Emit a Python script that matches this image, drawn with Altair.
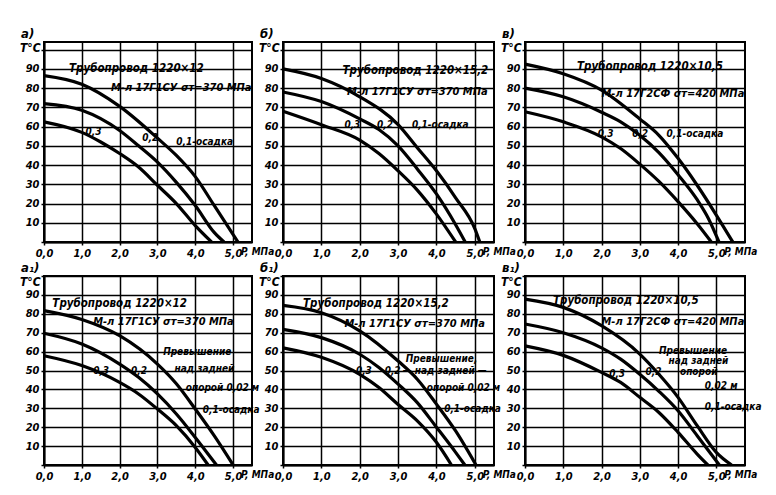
import altair as alt
import pandas as pd

FONT = "Liberation Sans Narrow, DejaVu Sans Condensed, Liberation Sans, sans-serif"

panel_labels = ["а)", "б)", "в)", "а₁)", "б₁)", "в₁)"]
panel_xmax = [5.5, 5.5, 5.75, 5.5, 5.5, 5.75]
panel_ymax = [104, 104, 104, 100, 100, 100]
panel_w = [208, 211, 220, 208, 211, 220]
panel_h = [200, 200, 200, 189, 189, 189]
curve_names = ["0,1", "0,2", "0,3"]

# ---- curves: pressure P (MPa) and temperature T (°C) ----
# panel а
a_p1 = [0, 1.0, 2.0, 3.0, 3.5, 4.0, 4.5, 5.13]
a_t1 = [86.5, 82, 70.5, 54, 45, 34, 19, 0]
a_p2 = [0, 1.0, 2.0, 2.5, 3.0, 3.5, 4.0, 4.5, 4.76]
a_t2 = [72, 68.5, 58, 50, 41.5, 31, 19, 5, 0]
a_p3 = [0, 1.0, 1.5, 2.0, 2.5, 3.0, 3.5, 4.0, 4.43]
a_t3 = [62.5, 57, 52, 46, 39, 29.5, 20, 8.5, 0]
# panel б
b_p1 = [0, 1.0, 2.0, 3.0, 3.5, 4.0, 4.5, 5.0, 5.13]
b_t1 = [90, 85, 75.5, 61, 49, 37, 23, 7, 0]
b_p2 = [0, 1.0, 2.0, 2.5, 3.0, 3.5, 4.0, 4.5, 4.75]
b_t2 = [78, 73, 64, 58.5, 50, 38, 25, 9, 0]
b_p3 = [0, 1.0, 2.0, 2.5, 3.0, 3.5, 4.0, 4.5]
b_t3 = [68, 61, 53, 46, 37, 27, 14.5, 0]
# panel в
v_p1 = [0, 1.0, 2.0, 3.0, 3.5, 4.0, 4.5, 5.0, 5.43]
v_t1 = [92.5, 87.5, 79, 64, 55.5, 43.5, 29.5, 14, 0]
v_p2 = [0, 1.0, 2.0, 2.5, 3.0, 3.5, 4.0, 4.5, 4.8, 5.07]
v_t2 = [80, 75.5, 67.5, 62.5, 55.5, 46.5, 35, 22, 12, 0]
v_p3 = [0, 1.0, 2.0, 2.5, 3.0, 3.5, 4.0, 4.5, 4.87]
v_t3 = [67.7, 62.5, 54.7, 48.6, 40.5, 31.5, 21, 9.5, 0]
# panel а1
a1_p1 = [0, 1.0, 2.0, 3.0, 3.5, 4.0, 4.5, 5.0]
a1_t1 = [81.7, 77, 68.4, 53.4, 43, 29.6, 15.5, 0]
a1_p2 = [0, 1.0, 2.0, 2.5, 3.0, 3.5, 4.0, 4.56]
a1_t2 = [69.7, 64, 53.4, 46.4, 37.6, 27, 14.6, 0]
a1_p3 = [0, 1.0, 2.0, 2.5, 3.0, 3.5, 4.0, 4.34]
a1_t3 = [57.8, 52.6, 43.7, 37.6, 29.6, 20.8, 9.3, 0]
# panel б1
b1_p1 = [0, 1.0, 2.0, 3.0, 3.5, 4.0, 4.5, 5.03]
b1_t1 = [84.5, 80.6, 71, 55, 45.4, 32.2, 18, 0]
b1_p2 = [0, 1.0, 2.0, 2.5, 3.0, 3.5, 4.0, 4.5, 4.74]
b1_t2 = [71.8, 67.4, 58.6, 51.6, 42.8, 33, 20, 6.7, 0]
b1_p3 = [0, 1.0, 2.0, 2.5, 3.0, 3.5, 4.0, 4.39]
b1_t3 = [62, 57, 48, 41, 32, 23.4, 12, 0]
# panel в1
v1_p1 = [0, 1.0, 2.0, 3.0, 3.5, 4.0, 4.5, 5.0, 5.4]
v1_t1 = [87.8, 83.4, 73.7, 58.7, 48, 35.8, 20.8, 6.7, 0]
v1_p2 = [0, 1.0, 2.0, 2.5, 3.0, 3.5, 4.0, 4.5, 5.08]
v1_t2 = [74.6, 70, 62, 56, 48, 39, 28.7, 15.5, 0]
v1_p3 = [0, 1.0, 2.0, 2.5, 3.0, 3.5, 4.0, 4.5, 4.78]
v1_t3 = [63, 58, 49, 43.7, 35.8, 27.8, 17.3, 5.8, 0]

curves = [
    [(a_p1, a_t1), (a_p2, a_t2), (a_p3, a_t3)],
    [(b_p1, b_t1), (b_p2, b_t2), (b_p3, b_t3)],
    [(v_p1, v_t1), (v_p2, v_t2), (v_p3, v_t3)],
    [(a1_p1, a1_t1), (a1_p2, a1_t2), (a1_p3, a1_t3)],
    [(b1_p1, b1_t1), (b1_p2, b1_t2), (b1_p3, b1_t3)],
    [(v1_p1, v1_t1), (v1_p2, v1_t2), (v1_p3, v1_t3)],
]

# ---- header lines (pipe, steel): text, left P, T ----
hdr = [
    ["Трубопровод 1220×12", "М-л 17Г1СУ σт=370 МПа"],
    ["Трубопровод 1220×15,2", "М-л 17Г1СУ σт=370 МПа"],
    ["Трубопровод 1220×10,5", "М-л 17Г2СФ σт=420 МПа"],
    ["Трубопровод 1220×12", "М-л 17Г1СУ σт=370 МПа"],
    ["Трубопровод 1220×15,2", "М-л 17Г1СУ σт=370 МПа"],
    ["Трубопровод 1220×10,5", "М-л 17Г2СФ σт=420 МПа"],
]
hdr_p = [[0.66, 1.77], [1.55, 1.67], [1.36, 2.0], [0.22, 1.3], [0.52, 1.6], [0.73, 2.0]]
hdr_t = [[90, 80], [89, 78], [91, 77], [85, 75.5], [85, 74.5], [87, 75.5]]

# ---- curve notes: text, left P, T ----
a_ann = ["0,3", "0,2", "0,1-осадка"]
a_ann_p = [1.1, 2.6, 3.5]
a_ann_t = [57, 54, 52]
b_ann = ["0,3", "0,2", "0,1-осадка"]
b_ann_p = [1.6, 2.45, 3.36]
b_ann_t = [61, 61, 61]
v_ann = ["0,3", "0,2", "0,1-осадка"]
v_ann_p = [1.9, 2.8, 3.7]
v_ann_t = [56, 56, 56]
a1_ann = ["Превышение", "над задней", "опорой 0,02 м", "0,1-осадка", "0,3", "0,2"]
a1_ann_p = [3.15, 3.45, 3.75, 4.2, 1.3, 2.3]
a1_ann_t = [60, 51, 41, 29, 50, 50]
b1_ann = ["Превышение,", "— над задней —", "опорой 0,02 м", "0,1-осадка", "0,3", "0,2"]
b1_ann_p = [3.2, 3.12, 3.75, 4.2, 1.9, 2.65]
b1_ann_t = [56, 50, 41, 29.6, 50, 50]
v1_ann = ["Превышение", "над задней", "опорой", "0,02 м", "0,1-осадка", "0,3", "0,2"]
v1_ann_p = [3.5, 3.75, 4.05, 4.7, 4.7, 2.2, 3.15]
v1_ann_t = [60.5, 55, 49, 42, 30.5, 48, 49]

anns = [(a_ann, a_ann_p, a_ann_t), (b_ann, b_ann_p, b_ann_t), (v_ann, v_ann_p, v_ann_t),
        (a1_ann, a1_ann_p, a1_ann_t), (b1_ann, b1_ann_p, b1_ann_t), (v1_ann, v1_ann_p, v1_ann_t)]

x_ticks = [0, 0.5, 1.0, 1.5, 2.0, 2.5, 3.0, 3.5, 4.0, 4.5, 5.0, 5.5]
y_ticks = [0, 10, 20, 30, 40, 50, 60, 70, 80, 90, 100]

TXT = dict(font=FONT, fontStyle="italic", fontWeight="bold", color="black")
HDR_SIZES = [11.5, 11]


def panel(k):
    rows = []
    for name, (ps, ts) in zip(curve_names, curves[k]):
        for p, t in zip(ps, ts):
            rows.append({"P": p, "T": t, "curve": name})
    cdf = pd.DataFrame(rows)
    txt, tp, tt = anns[k]
    adf = pd.DataFrame({"P": tp, "T": tt, "label": txt})
    hdf = pd.DataFrame({"P": hdr_p[k], "T": hdr_t[k], "label": hdr[k], "fs": HDR_SIZES})
    w, h = panel_w[k], panel_h[k]
    x = alt.X("P:Q", scale=alt.Scale(domain=[0, panel_xmax[k]], nice=False, zero=False),
              axis=alt.Axis(values=x_ticks, title=None, grid=True,
                            labelExpr="datum.value % 1 == 0 ? replace(format(datum.value, '.1f'), '.', ',') : ''",
                            tickSize=3, labelPadding=2, labelFlush=False))
    y = alt.Y("T:Q", scale=alt.Scale(domain=[0, panel_ymax[k]], nice=False, zero=False),
              axis=alt.Axis(values=y_ticks, title=None, grid=True,
                            labelExpr="datum.value > 0 && datum.value < 100 ? datum.value : ''",
                            tickSize=3, labelPadding=2, labelFlush=False))
    lines = alt.Chart(cdf).mark_line(color="black", strokeWidth=3.2, interpolate="monotone").encode(
        x=x, y=y, detail="curve:N")
    heads = alt.Chart(hdf).mark_text(align="left", baseline="middle", **TXT).encode(
        x=x, y=y, text="label:N", size=alt.Size("fs:Q", scale=None))
    texts = alt.Chart(adf).mark_text(align="left", baseline="middle", fontSize=10, **TXT).encode(
        x=x, y=y, text="label:N")
    lab = alt.Chart(pd.DataFrame({"s": [panel_labels[k]]})).mark_text(
        align="left", baseline="alphabetic", fontSize=13, **TXT).encode(
        x=alt.value(-23), y=alt.value(-4), text="s:N")
    tunit = alt.Chart(pd.DataFrame({"s": ["T°C"]})).mark_text(
        align="left", baseline="alphabetic", fontSize=12, **TXT).encode(
        x=alt.value(-24), y=alt.value(10), text="s:N")
    punit = alt.Chart(pd.DataFrame({"s": ["P, МПа"]})).mark_text(
        align="left", baseline="alphabetic", fontSize=10, dx=8, **TXT).encode(
        x=alt.datum(5.0), y=alt.value(h + 13), text="s:N")
    return alt.layer(lines, heads, texts, lab, tunit, punit).properties(width=w, height=h)


chart = alt.concat(*[panel(k) for k in range(6)], columns=3,
                   spacing={"row": 34, "column": 31}, bounds="flush").properties(
    padding={"left": 11, "top": 19, "right": 5, "bottom": 5},
    background="white",
).configure_view(stroke="black", strokeWidth=2).configure_axis(
    labelFont=FONT, labelFontStyle="italic", labelFontWeight="bold", labelFontSize=11,
    labelColor="black", gridColor="black", gridWidth=1.5, gridOpacity=1,
    domainColor="black", domainWidth=2, tickColor="black", tickWidth=1.5,
)

chart.save("out.html", embed_options={"renderer": "svg", "actions": False})
